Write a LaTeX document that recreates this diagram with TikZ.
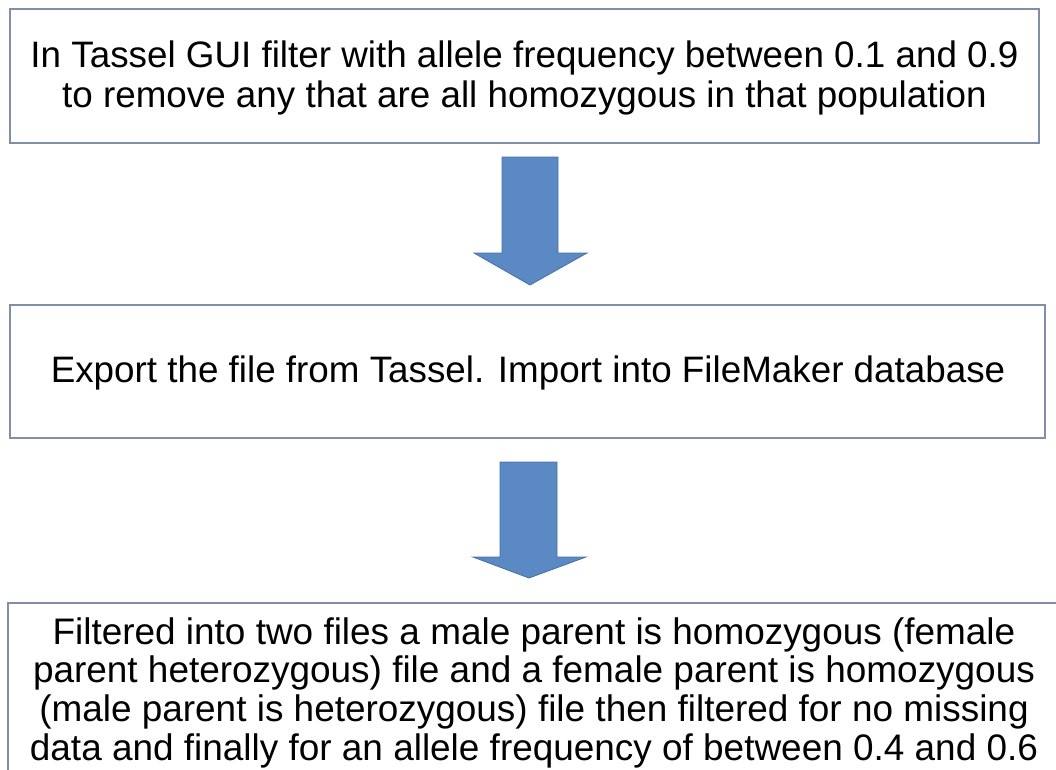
\documentclass[tikz,border=0pt]{standalone}
\usepackage{fontspec}
\setmainfont{Liberation Sans}
\definecolor{boxline}{RGB}{128,142,168}
\definecolor{arrowfill}{RGB}{91,137,196}
\definecolor{arrowline}{RGB}{72,112,165}
\tikzset{
  px/.style={x=0.75pt,y=-0.75pt},
  stepbox/.style={draw=boxline,line width=1.1pt,fill=white},
  steptext/.style={align=center,inner sep=0pt,font=\fontsize{27.6}{30}\selectfont},
  steptextb/.style={align=center,inner sep=0pt,font=\fontsize{27.7}{29}\selectfont},
  blockarrow/.style={fill=arrowfill,draw=arrowline,line width=0.6pt,line join=miter}
}
\begin{document}
\begin{tikzpicture}[px]
\useasboundingbox (0,0) rectangle (1056,769);
\clip (0,0) rectangle (1056,769);
% boxes
\draw[stepbox] (10,9) rectangle (1039,143);
\node[steptext] (t1) at (524.5,78) {In Tassel GUI filter with allele frequency between 0.1 and 0.9\\to remove any that are all homozygous in that population};
\draw[stepbox] (10,305) rectangle (1045,438);
\node[steptext] (t2) at (528,373) {Export the file from Tassel. Import into FileMaker database};
\draw[stepbox] (8,603) rectangle (1080,800);
\node[steptextb] (t3) at (534,692.5) {Filtered into two files a male parent is homozygous (female\\parent heterozygous) file and a female parent is homozygous\\(male parent is heterozygous) file then filtered for no missing\\data and finally for an allele frequency of between 0.4 and 0.6};
% block arrows
\draw[blockarrow] (502,157) -- (558,157) -- (558,253) -- (587,253) -- (530,285) -- (474,253) -- (502,253) -- cycle;
\draw[blockarrow] (500,462) -- (557,462) -- (557,557) -- (586,557) -- (529,578) -- (473,557) -- (500,557) -- cycle;
\end{tikzpicture}
\end{document}
